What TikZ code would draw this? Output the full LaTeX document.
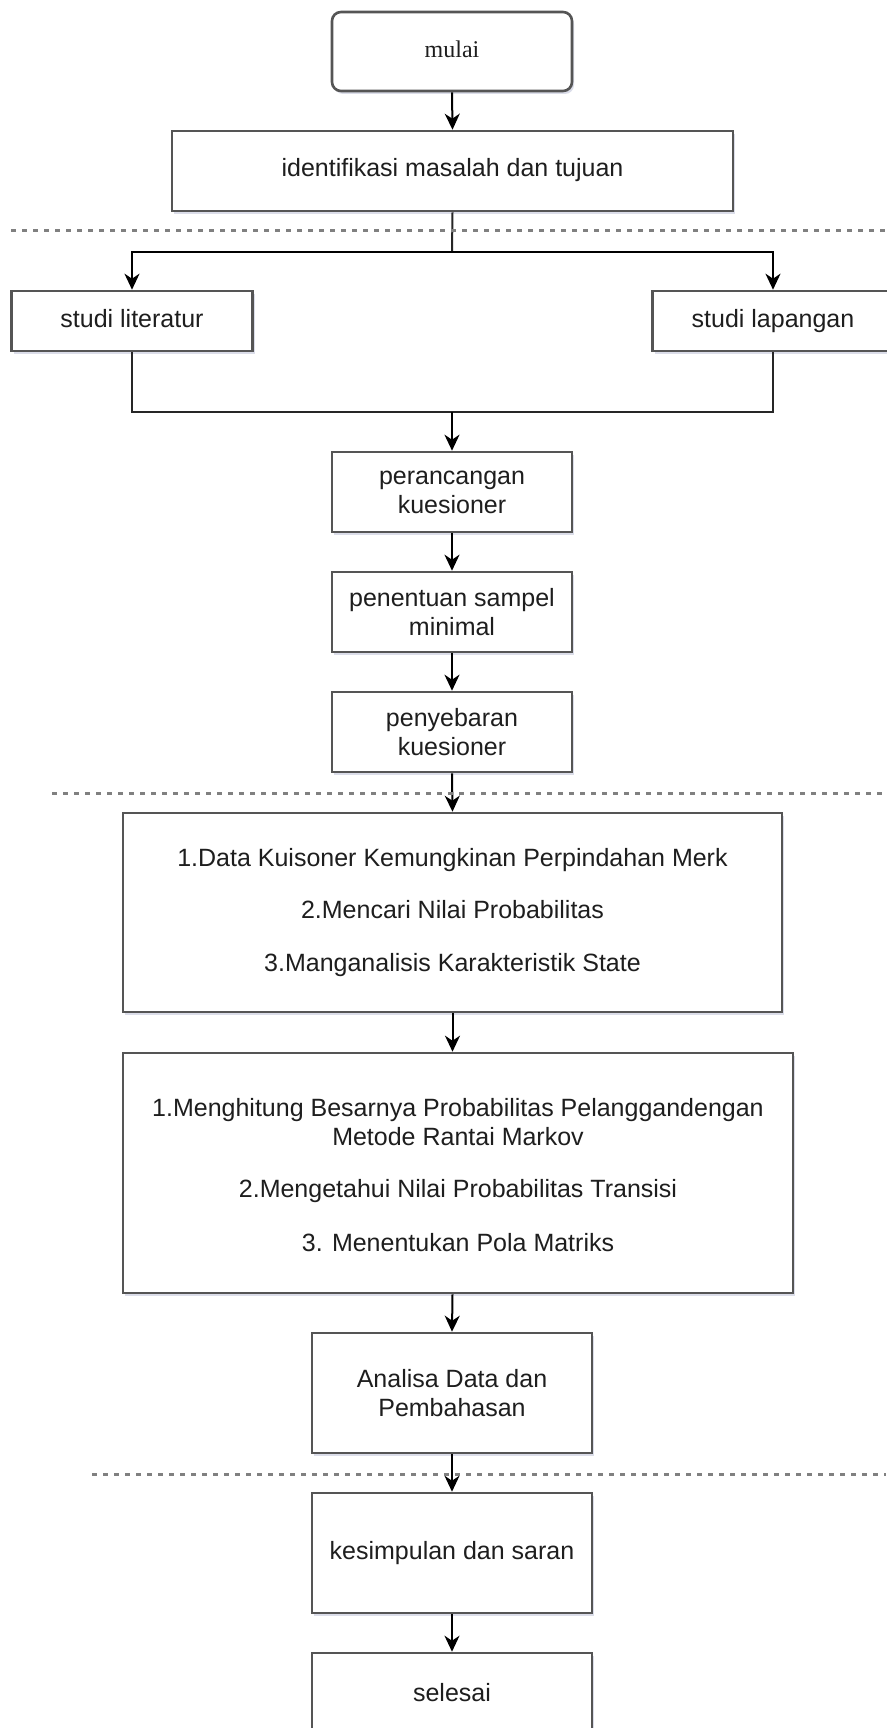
\documentclass[tikz,border=0pt]{standalone}
\usepackage{fontspec}
\setmainfont{Liberation Sans}
\newfontfamily\serifface{Liberation Serif}
\usetikzlibrary{arrows.meta,shadows}
\definecolor{boxline}{HTML}{555555}
\definecolor{txt}{HTML}{1E1E1E}
\definecolor{dotc}{HTML}{808080}
\definecolor{shad}{HTML}{9AA0C0}
\begin{document}
\begin{tikzpicture}[x=1pt,y=-1pt,
  box/.style={draw=boxline, line width=2.6pt, fill=white, inner sep=0pt,
    align=center, text=txt, font=\fontsize{25}{29}\selectfont,
    drop shadow={opacity=0.35, fill=shad, shadow xshift=2pt, shadow yshift=-3pt}},
  oneline/.style={text height=18pt, text depth=6pt},
  arr/.style={draw=black, line width=2pt, -{Stealth[length=16pt,width=15pt,inset=5pt]}},
  conn/.style={draw=black!85, line width=2pt},
  sep/.style={draw=dotc, line width=3pt, dash pattern=on 5pt off 6pt}]
\useasboundingbox (0,0) rectangle (886,1728);
\fill[white] (0,0) rectangle (886,1728);

% separators
\coordinate (s1a) at (11,231);  \coordinate (s1b) at (886,231);
\coordinate (s2a) at (52,793);  \coordinate (s2b) at (886,793);
\coordinate (s3a) at (92,1474); \coordinate (s3b) at (886,1474);

% nodes
\node[box, oneline, rounded corners=9pt, minimum width=240pt, minimum height=79pt,
      font=\serifface\fontsize{24}{29}\selectfont] (mulai) at (452,51.5) {mulai};
\node[box, oneline, minimum width=561pt, minimum height=80pt] (ident) at (452.5,171) {identifikasi masalah dan tujuan};
\node[box, oneline, minimum width=241pt, minimum height=60pt] (lit) at (132,321) {studi literatur};
\node[box, oneline, minimum width=241pt, minimum height=60pt] (lap) at (773,321) {studi lapangan};
\node[box, minimum width=240pt, minimum height=80pt] (peran) at (452,492) {perancangan\\kuesioner};
\node[box, minimum width=240pt, minimum height=80pt] (penen) at (452,612) {penentuan sampel\\minimal};
\node[box, minimum width=240pt, minimum height=80pt] (penye) at (452,732) {penyebaran\\kuesioner};
\node[box, minimum width=659pt, minimum height=199pt] (data) at (452.5,912.5)
  {1.Data Kuisoner Kemungkinan Perpindahan Merk\\[23.5pt]
   2.Mencari Nilai Probabilitas\\[23.5pt]
   3.Manganalisis Karakteristik State};
\node[box, minimum width=670pt, minimum height=240pt] (hitung) at (458,1173)
  {\\[-6pt]1.Menghitung Besarnya Probabilitas Pelanggandengan\\
   Metode Rantai Markov\\[23pt]
   2.Mengetahui Nilai Probabilitas Transisi\\[25pt]
   3. Menentukan Pola Matriks};
\node[box, minimum width=280pt, minimum height=120pt] (anal) at (452,1393) {Analisa Data dan\\Pembahasan};
\node[box, oneline, minimum width=280pt, minimum height=120pt] (kesim) at (452,1553) {kesimpulan dan saran};
\node[box, oneline, minimum width=280pt, minimum height=84pt] (seles) at (452,1695) {selesai};

\coordinate (split) at (452,252);
\coordinate (merge) at (452,412);

% connectors
\draw[arr] (mulai.south) -- (ident.north);
\draw[conn] (ident.south) -- (split);
\draw[arr] (split) -| (lit.north);
\draw[arr] (split) -| (lap.north);
\draw[conn] (lit.south) |- (merge);
\draw[conn] (lap.south) |- (merge);
\draw[arr] (merge) -- (peran.north);
\draw[arr] (peran.south) -- (penen.north);
\draw[arr] (penen.south) -- (penye.north);
\draw[arr] (penye.south) -- (data.north);
\draw[arr] (data.south) -- (data.south |- hitung.north);
\draw[arr] (hitung.south -| data.south) -- (anal.north);
\draw[arr] (anal.south) -- (kesim.north);
\draw[arr] (kesim.south) -- (seles.north);

% separators drawn on top
\draw[sep] (s1a) -- (s1b);
\draw[sep] (s2a) -- (s2b);
\draw[sep] (s3a) -- (s3b);
\end{tikzpicture}
\end{document}
